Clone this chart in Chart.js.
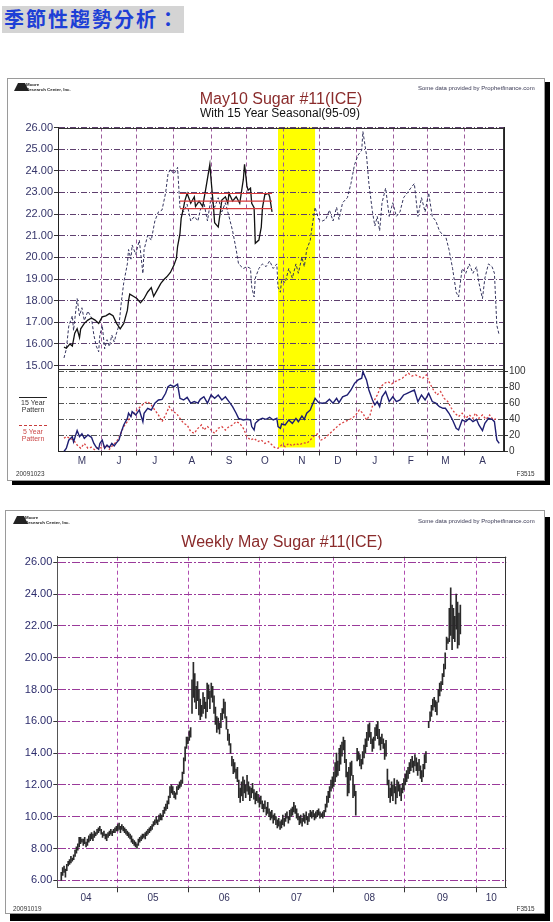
<!DOCTYPE html>
<html><head><meta charset="utf-8">
<script src="https://cdn.jsdelivr.net/npm/chart.js@4.4.1/dist/chart.umd.min.js"></script>
<style>
html,body{margin:0;padding:0;background:#fff;width:553px;height:922px;overflow:hidden;font-family:"Liberation Sans",Arial,sans-serif;}
.abs{position:absolute;white-space:nowrap;line-height:1;}
.frame{position:absolute;background:#fff;border:1px solid #9a9a9a;}
canvas{position:absolute;}
</style></head><body>
<div class="abs" style="left:2px;top:6px;width:182px;height:27px;background:#d4d4d4;"></div>
<div class="abs" style="left:4px;top:9px;font-family:'Noto Sans CJK TC','Noto Sans CJK SC',sans-serif;font-weight:700;font-size:20px;letter-spacing:2px;color:#1d3fd6;">季節性趨勢分析：</div>

<div class="frame" style="left:7px;top:78px;width:536px;height:401px;box-shadow:5px 4px 0 0 #000;"></div>
<canvas id="c1" width="536" height="401" style="left:8px;top:79px;width:536px;height:401px;"></canvas>

<div class="frame" style="left:5px;top:510px;width:538px;height:402px;box-shadow:5px 7px 0 0 #000;"></div>
<canvas id="c2" width="538" height="402" style="left:6px;top:511px;width:538px;height:402px;"></canvas>

<!-- chart 1 texts -->
<div class="abs" style="left:14px;top:83px;width:7px;height:0;border-left:4px solid transparent;border-right:4px solid transparent;border-bottom:8px solid #222;"></div>
<div class="abs" style="left:26px;top:83px;font-size:8px;font-weight:700;transform:scale(0.55);transform-origin:0 0;color:#222;line-height:1;">Moore<br>Research Center, Inc.</div>
<div class="abs" style="left:81px;top:90.5px;width:400px;text-align:center;font-size:16px;color:#8a2b2b;">May10 Sugar #11(ICE)</div>
<div class="abs" style="left:80px;top:107px;width:400px;text-align:center;font-size:12px;color:#111;">With 15 Year Seasonal(95-09)</div>
<div class="abs" style="right:18px;top:84px;font-size:8px;transform:scale(0.75);transform-origin:100% 50%;color:#3a3a55;">Some data provided by Prophetfinance.com</div>
<div class="abs" style="left:19px;top:397px;width:28px;height:1px;background:#222;"></div>
<div class="abs" style="left:13px;top:400px;width:40px;text-align:center;font-size:8px;transform:scale(0.875);transform-origin:50% 0;color:#333;line-height:7.5px;">15 Year<br>Pattern</div>
<div class="abs" style="left:19px;top:425px;width:28px;height:0;border-top:1px dashed #c83c3c;"></div>
<div class="abs" style="left:13px;top:429px;width:40px;text-align:center;font-size:8px;transform:scale(0.875);transform-origin:50% 0;color:#cc4a4a;line-height:7.5px;">5 Year<br>Pattern</div>
<div class="abs" style="left:16px;top:469.5px;font-size:8px;transform:scale(0.8);transform-origin:0 50%;color:#333;">20091023</div>
<div class="abs" style="right:18px;top:469.5px;font-size:8px;transform:scale(0.8);transform-origin:100% 50%;color:#333;">F3515</div>

<!-- chart 2 texts -->
<div class="abs" style="left:13px;top:516px;width:7px;height:0;border-left:4px solid transparent;border-right:4px solid transparent;border-bottom:8px solid #222;"></div>
<div class="abs" style="left:25px;top:516px;font-size:8px;font-weight:700;transform:scale(0.55);transform-origin:0 0;color:#222;line-height:1;">Moore<br>Research Center, Inc.</div>
<div class="abs" style="left:82px;top:533.5px;width:400px;text-align:center;font-size:16px;color:#8a2b2b;">Weekly May Sugar #11(ICE)</div>
<div class="abs" style="right:18px;top:517px;font-size:8px;transform:scale(0.75);transform-origin:100% 50%;color:#3a3a55;">Some data provided by Prophetfinance.com</div>
<div class="abs" style="left:13px;top:905px;font-size:8px;transform:scale(0.8);transform-origin:0 50%;color:#333;">20091019</div>
<div class="abs" style="right:18px;top:905px;font-size:8px;transform:scale(0.8);transform-origin:100% 50%;color:#333;">F3515</div>

<script>
// ================= Chart 1 data (x = days since May 1) =================
const monthStarts = [31,61,92,123,153,184,214,245,276,304,335];
const monthMids   = [15,46,76,107,138,168,199,229,260,290,319,350];
const monthLabels = ['M','J','J','A','S','O','N','D','J','F','M','A'];
const priceTicks  = [15,16,17,18,19,20,21,22,23,24,25,26];
const lowerTicks  = [0,20,40,60,80,100];
const seasonalWindow = [179,210];
const bandFloor = 5;
const rangeSpan = [97,174];
const rangeLevels = [22.95,22.6,22.25];

const priceDays = [0,2,5,7,9,11,13,14,17,20,
 23,26,29,32,35,38,41,44,47,50,
 53,54,55,58,61,64,67,70,73,75,
 78,81,84,86,89,92,94,95,97,98,
 100,101,103,106,109,110,113,116,119,122,
 123,125,126,129,131,132,135,137,138,141,
 144,147,150,151,153,154,156,157,159,160,
 163,165,166,168,171,172,174];
const priceVals = [15.85,15.8,16.0,15.9,16.5,16.7,16.3,16.7,16.95,17.1,
 17.2,17.1,16.95,17.25,17.3,17.4,17.3,16.95,16.7,16.95,
 17.55,18.0,18.3,18.2,18.1,17.9,18.1,18.4,18.6,18.2,
 18.5,18.8,19.0,19.1,19.3,19.65,19.95,20.5,21.1,21.8,
 22.3,22.6,22.96,22.5,22.8,22.35,22.6,22.35,23.3,24.3,
 23.6,22.35,21.6,21.4,22.2,22.65,22.8,22.5,22.96,22.6,
 22.8,22.5,23.6,24.3,23.3,23.1,23.2,22.5,22.3,20.65,
 20.8,21.4,22.3,22.9,22.96,22.8,22.1];

const patDays = [0,2,4,7,8,11,13,15,17,20,
 23,25,27,29,30,32,34,36,38,40,
 42,44,46,48,50,53,54,56,57,60,
 63,66,67,70,73,76,79,82,85,87,
 89,92,95,97,100,103,106,109,112,114,
 117,120,123,126,129,132,135,138,141,144,
 146,150,153,156,157,159,160,163,166,169,
 172,175,178,179,181,182,185,188,191,194,
 196,199,201,203,206,207,210,213,216,219,
 222,225,228,230,233,237,240,243,246,249,
 250,253,255,258,260,262,264,266,269,272,
 275,278,281,284,287,290,293,296,299,302,
 305,308,311,314,317,319,322,325,328,330,
 333,336,339,342,345,347,350,352,355,358,
 360,362,364];
const pattern15 = [0,4,14,18.5,12,26,18.5,22,16.4,20.5,
 17.6,10,5.2,2.7,10,14.3,4,8,5,10,
 7,11,14.3,24.7,33,41.2,47.5,43.3,49.5,45.4,
 51.6,37,47.5,53.7,51.6,60,64,64.8,72.3,80.6,
 82.6,80.6,83.5,66,64,67.3,60,62,60,64.8,
 68,60,70.2,66,70.2,64,68,62,55.7,47.5,
 41.2,39.2,40,39.2,31,26.7,35,39.2,41.2,40,
 42.5,39.2,41.2,31,28.8,34.2,33,39.2,35,41.2,
 37.1,44.1,40,47.5,51.6,55.7,66,60.7,60,60.7,
 64.8,60,66,60.7,68,70.2,76.4,84.7,88.9,91,
 99.2,88.9,76.4,64,57.8,62,55.7,68,74.4,62,
 68,62,64,70.2,72.3,74.4,76.4,62,70.2,64,
 72.3,62,60,55.7,53.7,53.7,47.5,39.2,28.8,26.7,
 39.2,37.1,41.2,37.1,40,33,26,35,41.2,40,
 37.1,14.3,10];

const pat5Days = [0,2,5,8,11,14,17,20,23,26,
 29,32,35,38,41,44,47,50,53,56,
 59,61,64,67,70,73,76,79,82,85,
 88,91,94,97,100,103,106,109,112,115,
 117,120,123,126,129,132,135,138,141,144,
 147,150,153,156,159,162,165,168,171,174,
 176,179,182,185,188,191,194,197,200,203,
 206,209,212,215,218,221,224,227,230,232,
 235,238,241,244,247,250,253,256,259,262,
 265,268,271,274,277,280,283,286,288,291,
 294,297,300,303,306,309,312,315,318,321,
 324,327,330,333,336,339,342,344,347,350,
 353,356,359,362];
const pattern5 = [16.4,18.5,16.4,14.3,8.1,4,10,4,5.2,1.9,
 5.2,4,8.1,2.7,8.1,12.3,20.5,31,37.1,44.1,
 47.5,51.6,55.7,60,62,57.8,51.6,45.4,37.1,45.4,
 55.7,49.5,47.5,41.2,35,33,24.7,22.6,28.8,33,
 26.7,31,26.7,22.6,28.8,31,26.7,31,33,37.1,
 35,28.8,18.5,14.3,16.4,12.3,14.3,10,12.3,8.1,
 5.2,4,8.1,6,10,7,10,8.1,11,10,
 14.3,19.3,21.8,14.3,16.4,20.5,24.7,28.8,33,35,
 37.1,39.2,41.2,45.4,51.6,47.5,39.2,45.4,62,70.2,
 80.6,84.7,86.8,83.9,86.8,88.9,91,95.1,97.1,93.8,
 95.1,93,91,95.1,84.7,76.4,70.2,74.4,66,62,
 53.7,47.5,43.3,47.5,41.2,45.4,41.2,47.5,41.2,45.4,
 40,45.4,39.2,41.2];

// ================= Chart 2 data (x = week index) =================
const yearBounds = [40.7,92.8,144.0,198.0,249.7,301.6];
const yearMids   = [18,66.7,118.4,171,224,277,312.5];
const yearLabels = ['04','05','06','07','08','09','10'];
const weeklyTicks = [6,8,10,12,14,16,18,20,22,24,26];
const weeklyLow = [6.0,6.3,6.5,6.2,6.6,6.9,7.0,7.1,7.2,7.3,
 7.5,7.7,7.9,8.1,8.3,8.4,8.2,8.3,8.1,8.2,
 8.4,8.5,8.6,8.5,8.7,8.8,8.9,9.0,9.1,8.9,
 8.7,8.8,8.6,8.5,8.7,8.8,8.9,8.8,9.0,9.0,
 9.1,9.1,9.2,9.0,9.2,9.1,9.0,8.9,8.8,8.7,
 8.6,8.4,8.3,8.2,8.1,8.0,8.2,8.4,8.5,8.6,
 8.7,8.6,8.8,8.9,9.0,9.1,9.2,9.4,9.5,9.6,
 9.5,9.7,9.8,9.8,10.0,10.2,10.4,10.5,10.8,11.2,
 11.5,11.4,11.2,11.1,11.4,11.7,11.8,11.9,12.1,12.7,
 13.5,14.3,14.6,14.8,15.0,16.5,17.5,17.2,16.8,17.3,
 16.4,16.1,16.3,16.5,16.8,16.2,16.6,17.4,16.8,17.5,
 17.2,16.5,15.8,15.3,15.5,15.2,15.6,16.1,16.5,16.2,
 15.5,14.8,14.5,14.0,13.2,12.7,12.8,12.4,12.2,11.2,
 10.9,11.3,11.0,11.5,11.2,11.6,11.4,11.0,11.2,11.5,
 11.1,10.8,11.0,10.9,10.6,10.8,10.5,10.3,10.5,10.1,
 10.2,10.0,9.8,9.9,9.6,9.8,9.5,9.3,9.4,9.2,
 9.3,9.5,9.4,9.7,9.9,9.6,9.8,10.0,10.1,10.3,
 10.2,9.9,9.8,9.5,9.6,9.4,9.7,9.6,9.8,9.5,
 9.7,10.0,9.9,10.0,9.8,9.9,10.0,10.1,9.9,10.0,
 9.9,10.0,10.3,10.6,10.9,11.2,11.6,11.8,11.9,12.2,
 12.5,12.6,12.9,13.3,13.8,14.2,13.4,12.5,11.3,11.5,
 12.3,12.6,11.2,11.3,10.1,13.5,13.6,13.2,13.0,13.3,
 13.7,14.0,14.4,14.8,15.0,14.6,14.1,14.3,14.8,15.1,
 14.9,14.5,14.2,14.6,14.3,13.6,13.8,12.0,11.2,10.9,
 11.3,11.0,11.5,10.8,11.2,11.6,11.3,11.0,11.5,11.7,
 12.0,12.2,12.4,12.7,12.9,13.1,12.8,13.2,12.9,12.6,
 12.9,12.4,12.2,12.5,13.0,13.4,null,15.6,16.0,16.3,
 16.7,16.9,16.6,16.4,17.2,17.6,17.9,18.3,18.8,19.3,
 20.5,20.9,21.0,21.4,20.5,21.2,21.0,21.8,20.6,20.8,21.5];
const weeklyHigh = [6.5,6.8,6.9,6.7,7.0,7.2,7.3,7.5,7.4,7.6,
 7.9,8.1,8.3,8.7,8.7,8.6,8.6,8.7,8.4,8.6,
 8.8,8.9,9.0,8.9,9.1,9.0,9.2,9.3,9.4,9.2,
 9.0,9.1,8.9,8.9,9.0,9.1,9.2,9.1,9.2,9.3,
 9.4,9.5,9.6,9.4,9.5,9.4,9.3,9.2,9.1,9.0,
 8.9,8.8,8.6,8.5,8.4,8.3,8.6,8.7,8.8,8.9,
 8.9,9.0,9.1,9.2,9.3,9.4,9.5,9.7,9.8,10.0,
 9.8,10.1,10.2,10.1,10.4,10.6,10.8,11.0,11.3,11.9,
 12.0,11.9,11.6,11.5,11.9,12.0,12.2,12.3,12.8,13.7,
 14.4,15.0,15.0,15.4,15.6,18.6,19.7,19.0,18.2,18.5,
 18.0,17.4,17.0,17.8,17.5,17.2,18.4,18.3,17.9,18.4,
 18.2,17.6,16.9,16.3,16.2,15.9,16.5,16.8,17.4,17.2,
 16.3,15.5,15.2,14.6,13.8,13.6,13.4,13.0,13.1,12.3,
 11.8,12.2,12.5,12.3,12.0,12.6,12.2,11.9,11.8,12.1,
 11.7,11.5,11.6,11.4,11.2,11.3,11.0,10.8,11.0,10.6,
 10.9,10.5,10.3,10.4,10.1,10.2,10.0,9.8,9.9,9.7,
 9.8,10.1,9.9,10.2,10.3,10.0,10.4,10.5,10.6,10.9,
 10.7,10.5,10.2,10.0,10.1,9.9,10.2,10.1,10.3,10.0,
 10.2,10.4,10.3,10.4,10.2,10.3,10.4,10.5,10.3,10.2,
 10.3,10.4,10.8,11.3,11.6,11.9,12.3,12.5,12.8,13.4,
 14.0,13.5,14.3,14.5,14.7,15.0,14.8,13.6,12.8,13.1,
 13.4,13.5,12.6,12.0,11.6,14.3,14.1,13.9,13.6,14.1,
 14.5,14.9,15.3,15.8,15.9,15.3,14.9,15.0,15.6,15.8,
 16.0,15.5,15.0,15.2,14.9,14.6,14.8,13.0,12.3,11.8,
 12.2,12.0,12.4,11.9,12.3,12.2,12.0,11.8,12.1,12.4,
 12.7,12.9,13.1,13.4,13.6,13.8,13.5,13.9,13.7,13.4,
 13.6,13.2,12.9,13.3,13.9,14.1,null,16.0,16.6,17.0,
 17.4,17.5,17.3,17.2,18.0,18.4,18.5,19.0,19.6,20.3,
 21.3,21.2,23.1,24.4,23.3,23.1,22.6,24.0,23.5,22.8,23.3];

// ================= helpers =================
Chart.defaults.font.family = "'Liberation Sans', Arial, sans-serif";
const xyOf = (xs, ys) => xs.map((x, i) => ({x: x, y: ys[i]}));
const clear = 'rgba(0,0,0,0)';
const mixedTicks = (a, b) => a.concat(b).sort((p, q) => p - q).map(v => ({value: v}));

const bandPlugin = {
  id: 'band',
  beforeDraw(chart) {
    const {ctx, chartArea, scales} = chart;
    const x0 = scales.x.getPixelForValue(seasonalWindow[0]);
    const x1 = scales.x.getPixelForValue(seasonalWindow[1]);
    const yb = scales.yLow.getPixelForValue(bandFloor);
    ctx.save();
    ctx.fillStyle = '#ffff00';
    ctx.fillRect(x0, chartArea.top, x1 - x0, yb - chartArea.top);
    ctx.restore();
  }
};
const framePlugin = {
  id: 'frameTop',
  afterDraw(chart) {
    const {ctx, chartArea, scales} = chart;
    ctx.save();
    ctx.strokeStyle = '#333';
    ctx.lineWidth = 1;
    ctx.beginPath();
    ctx.moveTo(chartArea.left, Math.round(chartArea.top) + 0.5);
    ctx.lineTo(chartArea.right, Math.round(chartArea.top) + 0.5);
    ctx.moveTo(Math.round(chartArea.right) - 0.5, chartArea.top);
    ctx.lineTo(Math.round(chartArea.right) - 0.5, chartArea.bottom);
    if (scales.yLow) {
      const ys = Math.round(scales.yLow.getPixelForValue(102.5)) + 0.5;
      ctx.moveTo(chartArea.left, ys);
      ctx.lineTo(chartArea.right, ys);
    }
    ctx.stroke();
    ctx.restore();
  }
};

// ================= Chart 1 =================
new Chart(document.getElementById('c1'), {
  type: 'line',
  data: {
    datasets: [
      ...rangeLevels.map(v => ({data: [{x: rangeSpan[0], y: v}, {x: rangeSpan[1], y: v}], yAxisID: 'yPrice', borderColor: '#d83a3a', borderWidth: 1.1})),
      {data: xyOf(priceDays, priceVals), yAxisID: 'yPrice', borderColor: '#111', borderWidth: 1.3},
      {data: xyOf(patDays, pattern15), yAxisID: 'yLow', borderColor: '#1e1e72', borderWidth: 1.4},
      {data: xyOf(pat5Days, pattern5), yAxisID: 'yLow', borderColor: '#d94040', borderWidth: 1.3, borderDash: [2, 2]},
      {data: xyOf(patDays, pattern15), yAxisID: 'yPat', borderColor: '#34345e', borderWidth: 1, borderDash: [3, 2]}
    ]
  },
  options: {
    responsive: false, animation: false,
    elements: {point: {radius: 0}, line: {tension: 0, fill: false}},
    plugins: {legend: {display: false}, tooltip: {enabled: false}},
    layout: {padding: {top: 48.5, left: 0, right: 0, bottom: 0}},
    scales: {
      x: {
        type: 'linear', min: -5, max: 368, offset: false,
        afterBuildTicks: s => { s.ticks = mixedTicks(monthStarts, monthMids); },
        afterFit: s => { s.height = 28.5; },
        ticks: {autoSkip: false, maxRotation: 0, padding: 0, color: '#34345f', font: {size: 10},
          callback: v => { const i = monthMids.indexOf(v); return i >= 0 ? monthLabels[i] : ''; }},
        grid: {
          color: c => (c.tick && monthStarts.includes(c.tick.value)) ? '#9c5c9c' : clear,
          tickColor: c => (c.tick && monthStarts.includes(c.tick.value)) ? '#333' : clear,
          lineWidth: 1, tickLength: 4
        },
        border: {display: true, color: '#222', width: 1, dash: [4, 3]}
      },
      yPrice: {
        type: 'linear', position: 'left', min: 11.03, max: 26,
        afterBuildTicks: s => { s.ticks = priceTicks.map(v => ({value: v})); },
        afterFit: s => { s.width = 50; },
        ticks: {padding: 1, color: '#35356a', font: {size: 11}, callback: v => v.toFixed(2)},
        grid: {color: '#5e3f6e', lineWidth: 1, tickLength: 4, tickColor: '#333'},
        border: {display: true, color: '#222', width: 1, dash: [6, 2, 1, 2]}
      },
      yLow: {
        type: 'linear', position: 'right', min: 0, max: 402.5,
        afterBuildTicks: s => { s.ticks = lowerTicks.map(v => ({value: v})); },
        afterFit: s => { s.width = 40; },
        ticks: {padding: 1, color: '#333', font: {size: 10}},
        grid: {color: '#555', lineWidth: 1, tickLength: 4, tickColor: '#333'},
        border: {display: true, color: '#222', width: 1, dash: [6, 2, 1, 2]}
      },
      yPat: {type: 'linear', display: false, min: -40.97, max: 100.96}
    }
  },
  plugins: [bandPlugin, framePlugin]
});

// ================= Chart 2 =================
const weeklyBars = [];
weeklyLow.forEach((lo, i) => { if (lo !== null && weeklyHigh[i] !== null) weeklyBars.push({x: i, y: [lo, weeklyHigh[i]]}); });

new Chart(document.getElementById('c2'), {
  type: 'bar',
  data: {datasets: [{data: weeklyBars, backgroundColor: '#2a2a2a', borderWidth: 0, barThickness: 1}]},
  options: {
    responsive: false, animation: false,
    plugins: {legend: {display: false}, tooltip: {enabled: false}},
    layout: {padding: {top: 45.7, left: 0, right: 37.7, bottom: 0}},
    scales: {
      x: {
        type: 'linear', min: -2.9, max: 323.4, offset: false,
        afterBuildTicks: s => { s.ticks = mixedTicks(yearBounds, yearMids); },
        afterFit: s => { s.height = 25.7; },
        ticks: {autoSkip: false, maxRotation: 0, padding: 0, color: '#34345f', font: {size: 10},
          callback: v => { const i = yearMids.indexOf(v); return i >= 0 ? yearLabels[i] : ''; }},
        grid: {
          offset: false,
          color: c => (c.tick && yearBounds.includes(c.tick.value)) ? '#b04cb0' : clear,
          tickColor: c => (c.tick && yearBounds.includes(c.tick.value)) ? '#333' : clear,
          lineWidth: 1, tickLength: 5
        },
        border: {display: true, color: '#555', width: 1, dash: [4, 3]}
      },
      y: {
        type: 'linear', position: 'left', min: 5.56, max: 26.35,
        afterBuildTicks: s => { s.ticks = weeklyTicks.map(v => ({value: v})); },
        afterFit: s => { s.width = 51.3; },
        ticks: {padding: 1, color: '#2c2c6c', font: {size: 11}, callback: v => v.toFixed(2)},
        grid: {color: '#9a3a9a', lineWidth: 1, tickLength: 4, tickColor: '#333'},
        border: {display: true, color: '#555', width: 1, dash: [8, 2, 2, 2]}
      }
    }
  },
  plugins: [framePlugin]
});
</script>
</body></html>
